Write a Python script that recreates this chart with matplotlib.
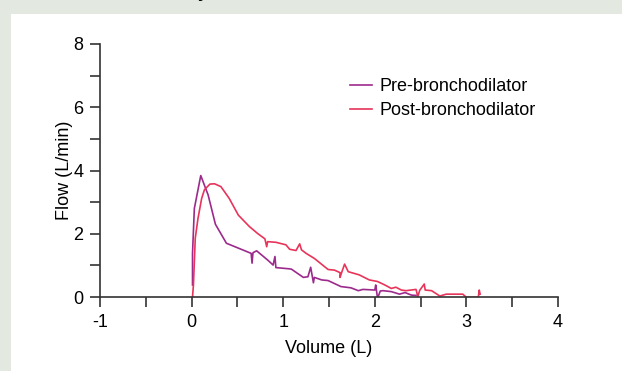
import matplotlib.pyplot as plt
from matplotlib.patches import Rectangle

plt.rcParams['font.family'] = ['Liberation Sans', 'DejaVu Sans']

# pre-bronchodilator flow-volume trace
pre_volume = [0.01, 0.01, 0.03, 0.10, 0.18, 0.26, 0.38, 0.65, 0.66, 0.67, 0.71,
              0.83, 0.89, 0.91, 0.92, 1.07, 1.09, 1.22, 1.27, 1.30, 1.33, 1.34,
              1.42, 1.49, 1.63, 1.74, 1.82, 1.87, 2.00, 2.01, 2.03, 2.06, 2.09,
              2.18, 2.27, 2.33, 2.40, 2.45]
pre_flow = [0.38, 1.38, 2.80, 3.84, 3.23, 2.30, 1.70, 1.38, 1.07, 1.40, 1.46,
            1.17, 1.01, 1.28, 0.93, 0.89, 0.88, 0.62, 0.64, 0.94, 0.45, 0.62,
            0.54, 0.52, 0.33, 0.29, 0.20, 0.24, 0.22, 0.38, -0.04, 0.19, 0.20,
            0.17, 0.09, 0.14, 0.06, 0.05]

# post-bronchodilator trace
post_volume = [0.01, 0.02, 0.04, 0.07, 0.11, 0.14, 0.20, 0.25, 0.32, 0.41, 0.51,
               0.63, 0.72, 0.80, 0.82, 0.83, 0.92, 1.03, 1.07, 1.14, 1.18, 1.20,
               1.25, 1.34, 1.49, 1.56, 1.62, 1.62, 1.67, 1.71, 1.83, 1.94, 2.03,
               2.11, 2.18, 2.23, 2.29, 2.34, 2.45, 2.47, 2.49, 2.54, 2.55, 2.62,
               2.71, 2.78, 2.96, 3.00, 3.13, 3.14, 3.15]
post_flow = [0.00, 0.38, 1.86, 2.49, 3.12, 3.39, 3.57, 3.58, 3.49, 3.12, 2.59,
             2.23, 2.01, 1.84, 1.59, 1.75, 1.73, 1.65, 1.51, 1.47, 1.68, 1.49,
             1.38, 1.22, 0.87, 0.85, 0.77, 0.62, 1.04, 0.80, 0.70, 0.54, 0.49,
             0.38, 0.27, 0.31, 0.22, 0.20, 0.24, 0.01, 0.21, 0.41, 0.22, 0.20,
             0.03, 0.09, 0.09, -0.01, -0.01, 0.22, 0.09]

x_ticks = [-1, -0.5, 0, 0.5, 1, 1.5, 2, 2.5, 3, 3.5, 4]
x_labels = ['-1', '', '0', '', '1', '', '2', '', '3', '', '4']
y_ticks = [0, 1, 2, 3, 4, 5, 6, 7, 8]
y_labels = ['0', '', '2', '', '4', '', '6', '', '8']

fs = 13

fig = plt.figure(figsize=(6.22, 3.71), dpi=100)
fig.patch.set_facecolor('#e3e8e0')
# white panel inside the grey frame
fig.patches.append(Rectangle((11 / 622, 0), 1, 1 - 14 / 371, transform=fig.transFigure,
                             facecolor='white', edgecolor='none', zorder=-5))
# bottom of a title cut off at the top edge
fig.text(203 / 622, 1 + 3 / 371, 'y', fontsize=13, fontweight='bold', ha='center', va='baseline')

ax = fig.add_axes([100 / 622, 1 - 297 / 371, 458 / 622, 253 / 371])
ax.set_facecolor('none')
ax.plot(pre_volume, pre_flow, color='#9c2a8c', lw=1.2, label='Pre-bronchodilator')
ax.plot(post_volume, post_flow, color='#e8345a', lw=1.2, label='Post-bronchodilator')

ax.set_xlim(-1, 4)
ax.set_ylim(0, 8)
ax.set_xticks(x_ticks)
ax.set_xticklabels(x_labels)
ax.set_yticks(y_ticks)
ax.set_yticklabels(y_labels)
ax.tick_params(length=7, width=1.2, color='#333333', labelsize=fs, pad=5)
for side in ['top', 'right']:
    ax.spines[side].set_visible(False)
for side in ['left', 'bottom']:
    ax.spines[side].set_color('#333333')
    ax.spines[side].set_linewidth(1.2)
ax.set_xlabel('Volume (L)', fontsize=fs, labelpad=7)
ax.set_ylabel('Flow (L/min)', fontsize=fs, labelpad=0)
ax.legend(loc='upper left', bbox_to_anchor=(0.511, 0.929), frameon=False, fontsize=fs,
          handlelength=1.2, handletextpad=0.4, labelspacing=0.4)

fig.savefig('out.png', dpi=100, facecolor=fig.get_facecolor())
